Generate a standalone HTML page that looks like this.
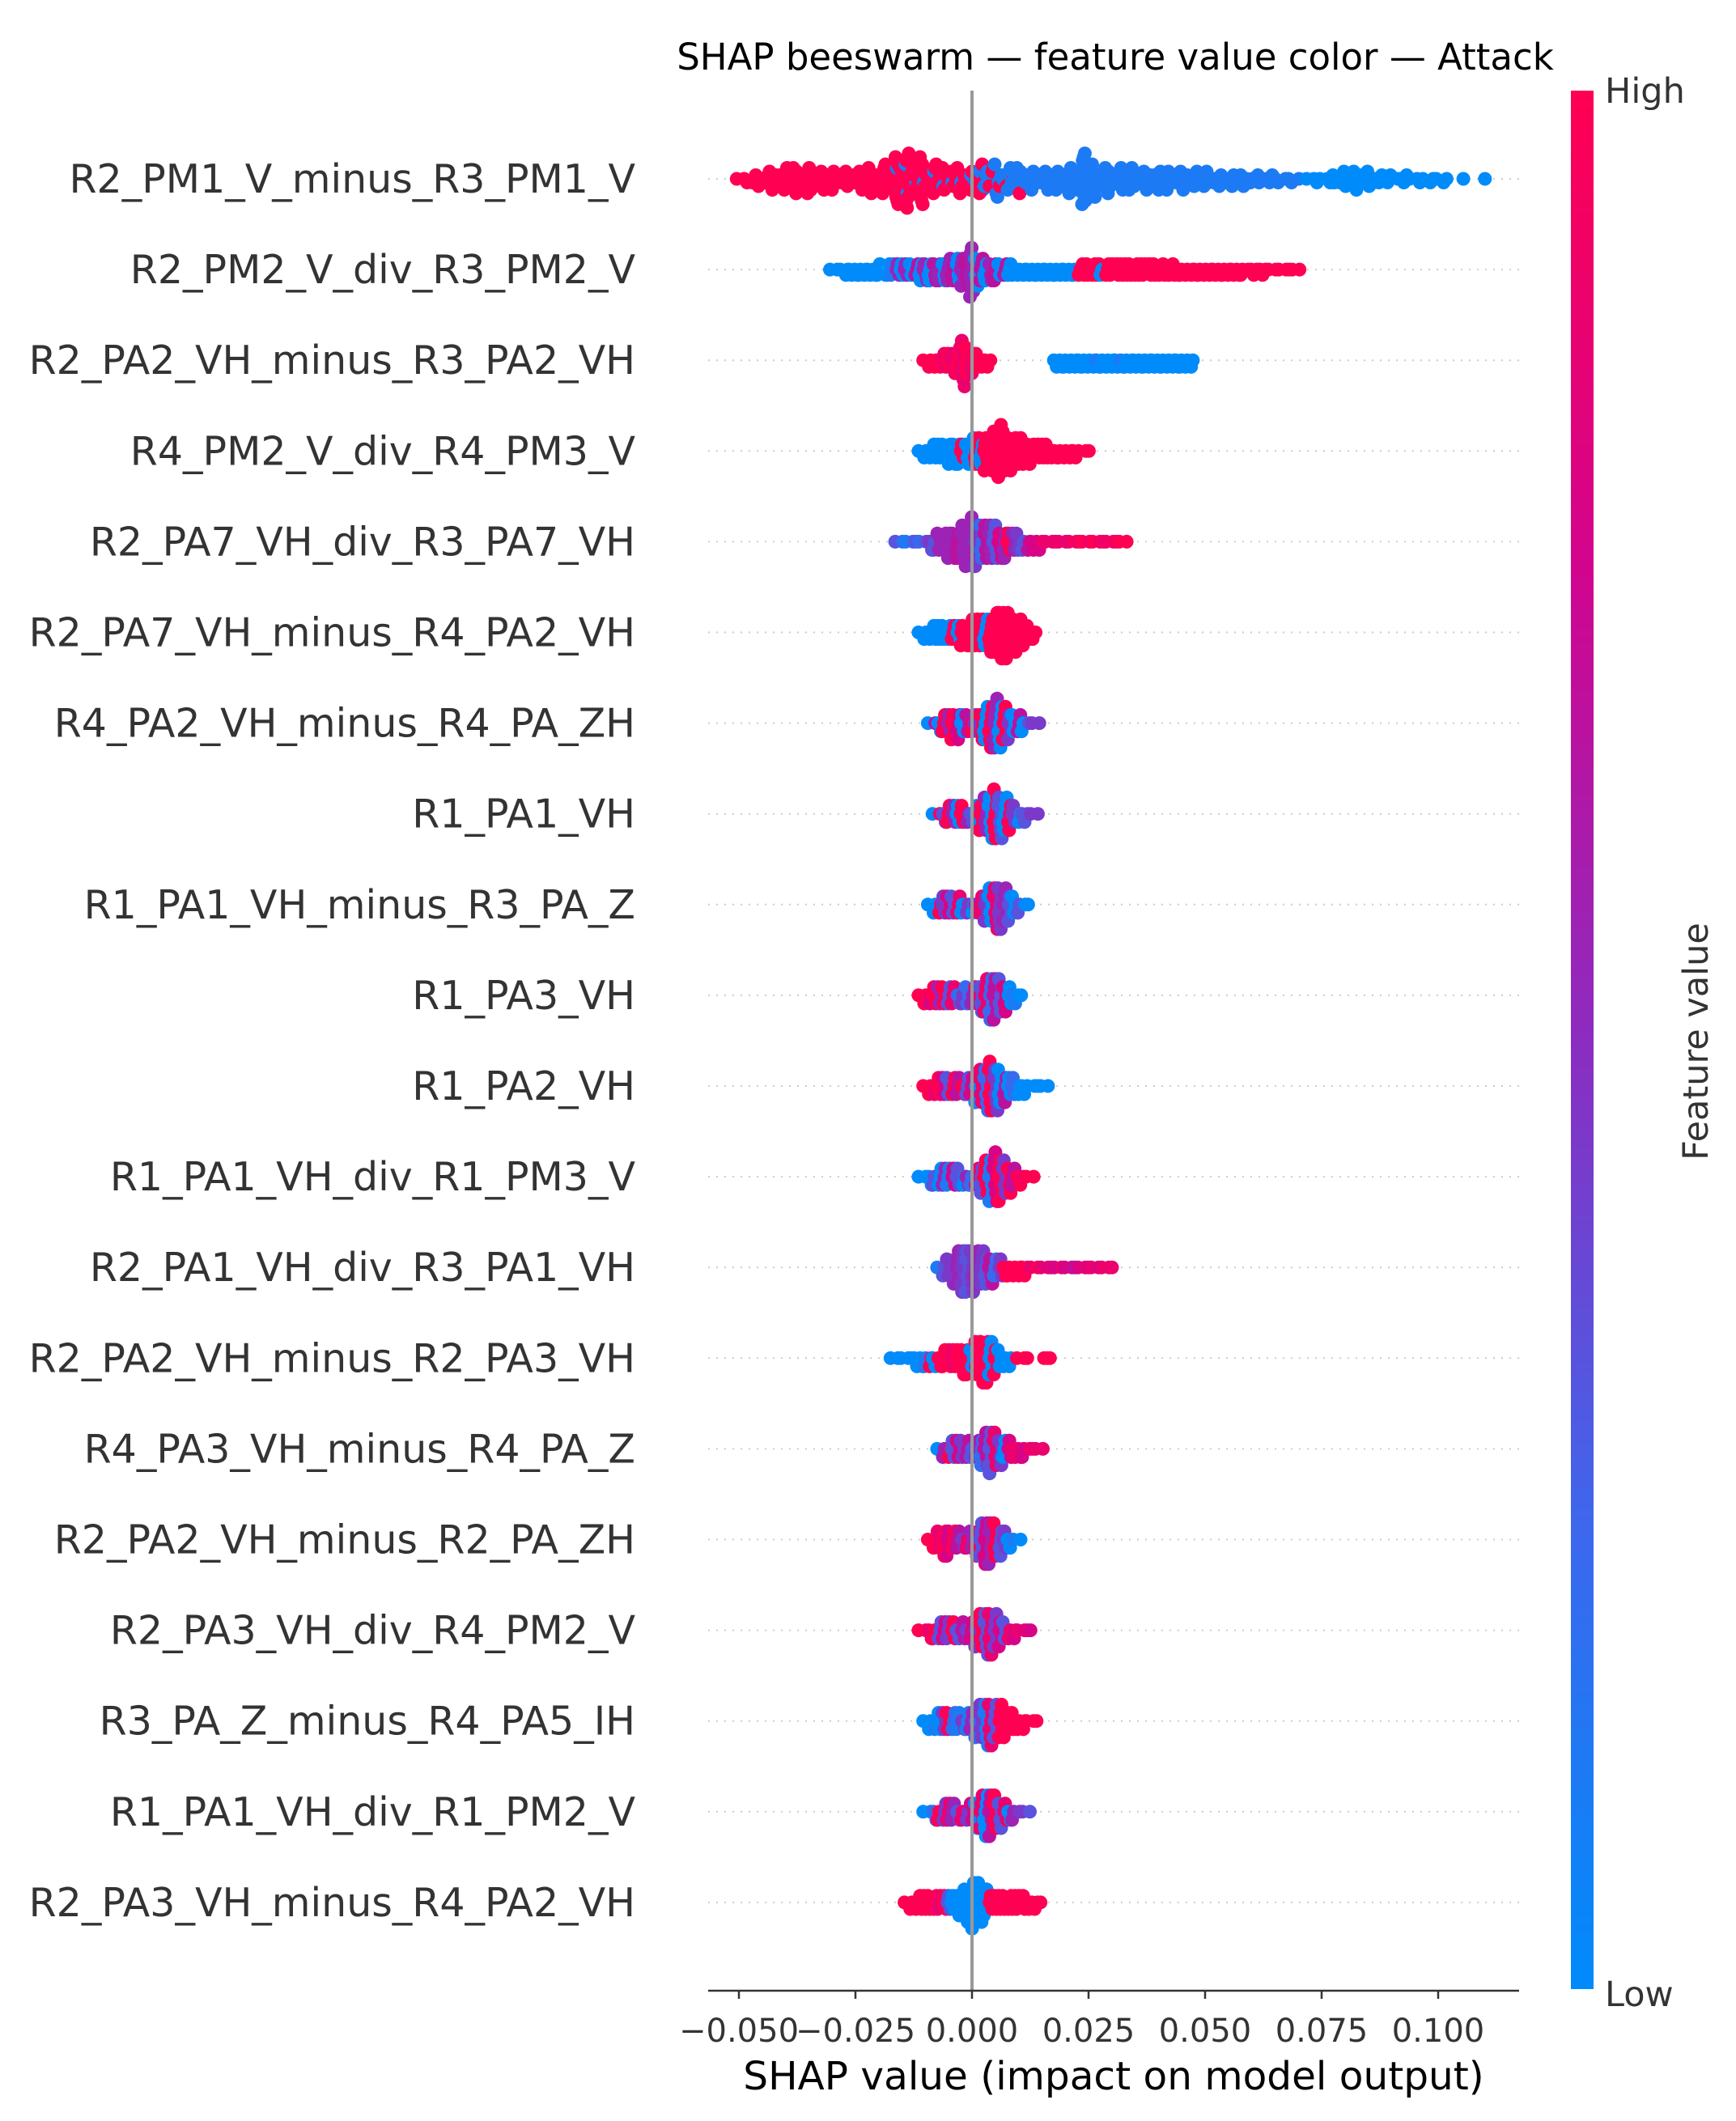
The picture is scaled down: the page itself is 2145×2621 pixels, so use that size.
<!DOCTYPE html>
<html><head><meta charset="utf-8"><style>
html,body{margin:0;padding:0;background:#fff;}
svg text{font-family:"DejaVu Sans","Liberation Sans",sans-serif;}
</style></head><body>
<svg id="chart" width="2145" height="2616" viewBox="0 0 2145 2616" xmlns="http://www.w3.org/2000/svg">
<defs><linearGradient id="cbar" x1="0" y1="1" x2="0" y2="0">
<stop offset="0" stop-color="#008bfb"/><stop offset="0.25" stop-color="#3f66ec"/><stop offset="0.5" stop-color="#8c2cc0"/><stop offset="0.75" stop-color="#d2048e"/><stop offset="1" stop-color="#ff0052"/></linearGradient></defs>
<text x="1378" y="86" font-size="45" text-anchor="middle" fill="#000">SHAP beeswarm — feature value color — Attack</text>
<g id="grid"></g><g id="labels"></g><g id="dots"></g>
<line x1="1201" y1="112" x2="1201" y2="2460" stroke="#999" stroke-width="4"/>
<line x1="875" y1="2460" x2="1877" y2="2460" stroke="#333" stroke-width="2.5"/>
<g id="xticks"></g>
<text x="1376" y="2582" font-size="48.5" text-anchor="middle" fill="#000">SHAP value (impact on model output)</text>
<rect x="1941" y="112" width="28" height="2346" fill="url(#cbar)"/>
<text x="1983" y="127" font-size="43" fill="#333">High</text>
<text x="1983" y="2479" font-size="43" fill="#333">Low</text>
<text x="2110" y="1287" font-size="43" fill="#333" text-anchor="middle" transform="rotate(-90 2110 1287)">Feature value</text>
</svg>
<script>
const features=["R2_PM1_V_minus_R3_PM1_V","R2_PM2_V_div_R3_PM2_V","R2_PA2_VH_minus_R3_PA2_VH","R4_PM2_V_div_R4_PM3_V","R2_PA7_VH_div_R3_PA7_VH","R2_PA7_VH_minus_R4_PA2_VH","R4_PA2_VH_minus_R4_PA_ZH","R1_PA1_VH","R1_PA1_VH_minus_R3_PA_Z","R1_PA3_VH","R1_PA2_VH","R1_PA1_VH_div_R1_PM3_V","R2_PA1_VH_div_R3_PA1_VH","R2_PA2_VH_minus_R2_PA3_VH","R4_PA3_VH_minus_R4_PA_Z","R2_PA2_VH_minus_R2_PA_ZH","R2_PA3_VH_div_R4_PM2_V","R3_PA_Z_minus_R4_PA5_IH","R1_PA1_VH_div_R1_PM2_V","R2_PA3_VH_minus_R4_PA2_VH"];
const tickValues=[-0.05,-0.025,0,0.025,0.05,0.075,0.1];
const tickLabels=["−0.050","−0.025","0.000","0.025","0.050","0.075","0.100"];
// points: "shap(thousandths):featureValue(0-9)*count"
const row1="-50:9 -49:9 -48:9 -47:9*2 -46:9*2 -45:9*2 -44:9*3 -43:9*3 -42:9*3 -41:9*3 -40:9*4 -39:9*4 -38:9*4 -37:9*4 -36:9*4 -35:9*4 -34:9*3 -33:9*3 -32:9*3 -31:9*3 -30:9*3 -29:9*3 -28:9*2 -27:9*3 -26:9*3 -25:9*3 -24:9*3 -23:9*4 -22:9*4 -21:9*4 -20:9*4 -19:9*5 -18:9*5 -17:9*6 -16:1*2 -16:9*6 -15:9*7 -14:1*2 -14:9*7 -13:9*6 -12:0*2 -12:9*6 -11:9*6 -10:1*2 -10:9*5 -9:9*4 -8:1*2 -8:9*3 -7:9*3 -6:1 -6:9*3 -5:9*3 -4:1*2 -4:9*3 -3:9*3 -2:1*2 -2:9*2 -1:9*2 0:1*2 0:9*2 1:1*2 1:9*2 2:1*3 2:9*2 3:9*2 3:1*3 4:1*3 4:9*2 5:9*2 5:1*3 6:1*3 6:9 7:1*3 7:9 8:1*3 9:9 9:1*3 10:1*3 10:9 11:1*3 12:1*3 13:1*3 14:1*3 15:1*3 16:1*3 17:1*3 18:1*3 19:1*3 20:1*4 21:1*4 22:1*5 23:1*6 24:1*9 25:1*6 26:1*4 27:1*3 28:1*4 29:1*4 30:1*4 31:1*3 32:1*4 33:1*4 34:1*3 35:1*4 36:1*3 37:1*3 38:1*3 39:1*3 40:1*3 41:1*3 42:1*3 43:1*3 44:1*3 45:1*3 46:1*3 47:1*2 48:1*3 49:1*3 50:1*2 51:1*2 52:1*2 53:1*2 54:1*2 55:1*2 56:1*2 57:1*2 58:1*2 59:1*2 60:1*2 61:1 62:1*2 63:1 64:1*2 65:1 66:1 67:1 68:1 69:1 70:1 72:0 73:0 74:0 75:0 76:0 77:0*2 78:0*2 79:0*2 80:0*3 81:0*3 82:0*3 83:0*2 84:0*3 85:0*2 86:0*2 87:0*2 88:0 89:0*2 90:0 91:0 92:0 93:0*2 94:0 95:0 96:0 97:0 98:0 99:0 100:0 101:0 102:0 105:0 110:0";
const row2="-30:0 -29:0 -28:0 -27:0*2 -26:0*2 -25:0*2 -24:0*2 -23:0*2 -22:0*2 -21:0*2 -20:0*3 -19:0*2 -18:0*3 -17:1*3 -16:5*3 -15:0*3 -14:5*3 -13:0*3 -12:6*3 -11:0*4 -10:5*4 -9:0*4 -8:6*4 -7:5*4 -6:0*4 -5:5*5 -4:6*4 -3:0*5 -2:5*6 -1:6*6 0:5*10 1:0*6 2:6*5 3:0*4 4:5*4 5:6*4 6:0*3 7:6*3 8:0*3 9:0*2 10:0*2 11:0*2 12:0*2 13:0*2 14:0*2 15:0*2 16:0*2 17:0*2 18:0*2 19:0*2 20:0*2 21:0*2 22:0*2 23:9*2 24:9*3 25:9*3 26:9*3 27:9*3 28:0*2 29:9*3 30:9*3 31:9*3 32:9*3 33:9*3 34:9*3 35:9*3 36:9*3 37:9*3 38:9*3 39:9*3 40:9*2 41:9*3 42:9*2 43:9*3 44:9*2 45:9*2 46:9*2 47:9*2 48:9*2 49:9*2 50:9*2 51:9*2 52:9*2 53:9*2 54:9*2 55:9*2 56:9*2 57:9*2 58:9*2 59:9 60:9*2 61:9 62:9*2 63:9 64:9 65:9 66:9 67:9 68:9 69:9 70:9";
const row3="-10:9 -9:9*2 -8:9*2 -7:9*2 -6:8*3 -5:9*3 -4:8*4 -3:9*5 -2:8*8 -1:9*5 0:8*4 1:9*3 2:9*2 3:9*2 4:9 18:0*2 19:0*2 20:0*2 21:0*2 22:0*2 23:0*2 24:0*2 25:0*2 26:0*2 27:1*2 28:0*2 29:0*2 30:0*2 31:0*2 32:1*2 33:0*2 34:0*2 35:0*2 36:0*2 37:0*2 38:0*2 39:0*2 40:0*2 41:0*2 42:0*2 43:0*2 44:0*2 45:0*2 46:0*2 47:0*2";
const row4="-11:0 -10:0*2 -9:0*2 -8:0*3 -7:0*3 -6:0*3 -5:0*4 -4:0*4 -3:0*4 -2:9*3 -1:0*4 0:0*5 1:9*5 2:0*4 3:9*6 4:9*6 5:9*7 6:9*9 7:9*7 8:9*6 9:9*5 10:9*5 11:9*4 12:9*4 13:9*3 14:9*3 15:9*3 16:9*3 17:9*2 18:9*2 19:9*2 20:9*2 21:9*2 22:9*2 23:9 24:9 25:9";
const row5="-16:3 -15:2 -14:1 -13:2 -12:3 -11:2 -10:3 -9:4*2 -8:3*2 -7:5*3 -6:5*3 -5:5*4 -4:5*4 -3:6*4 -2:5*5 -1:5*6 0:5*7 1:4*6 2:2*5 3:6*5 4:5*5 5:3*5 6:7*4 7:5*4 8:9*3 9:5*3 10:4*3 11:3*2 12:6*2 13:7*2 14:7*2 15:8 16:8 17:8 18:8 19:8 20:8 21:8 22:9 23:8 24:9 25:8 26:9 27:8 28:9 29:8 30:9 31:8 32:9 33:9";
const row6="-11:0 -10:0*2 -9:0*2 -8:0*3 -7:0*3 -6:0*3 -5:0*3 -4:9*3 -3:0*3 -2:9*4 -1:9*4 0:9*5 1:9*5 2:9*5 3:0*5 4:9*6 5:9*7 6:9*8 7:9*8 8:9*7 9:9*6 10:9*5 11:9*4 12:9*3 13:9*2 14:9";
const row7="-9:0 -8:6 -7:0*2 -6:9*3 -5:5*3 -4:9*4 -3:7*4 -2:0*3 -1:6*3 0:9*2 1:4*3 2:9*4 3:0*5 4:9*6 5:5*7 6:0*6 7:9*5 8:4*4 9:0*3 10:6*3 11:0*2 12:3 13:4 14:4";
const row8="-8:0 -7:9 -6:3*2 -5:9*3 -4:5*3 -3:0*3 -2:9*3 -1:5*2 0:3*2 1:0*3 2:9*4 3:5*5 4:0*6 5:9*7 6:3*6 7:0*5 8:9*4 9:4*3 10:0*2 11:3*2 12:3 13:4 14:4";
const row9="-9:0 -8:0*2 -7:9*2 -6:4*3 -5:7*3 -4:3*3 -3:8*3 -2:0*2 -1:4*2 0:0*2 1:5*2 2:8*3 3:4*4 4:0*5 5:8*6 6:4*6 7:5*5 8:3*4 9:0*3 10:3*2 11:0 12:0";
const row10="-11:9 -10:9*2 -9:7*2 -8:9*3 -7:5*3 -6:9*3 -5:3*3 -4:8*3 -3:2*2 -2:4*2 -1:2*3 0:5*2 1:8*3 2:3*4 3:8*5 4:2*6 5:6*6 6:3*5 7:7*4 8:0*3 9:1*2 10:0 11:0";
const row11="-10:9 -9:9*2 -8:8*2 -7:9*3 -6:7*3 -5:3*3 -4:9*3 -3:6*3 -2:9*2 -1:3*3 0:7*3 1:0*4 2:8*5 3:2*6 4:9*7 5:4*6 6:0*5 7:6*4 8:0*3 9:2*3 10:0*2 11:0*2 12:0 13:0 14:0 15:0 16:0";
const row12="-11:0 -10:0 -9:0*2 -8:3*2 -7:0*3 -6:5*3 -5:1*3 -4:7*3 -3:3*3 -2:0*2 -1:5*2 0:2*2 1:8*3 2:3*4 3:9*5 4:1*6 5:7*7 6:9*6 7:4*5 8:9*4 9:6*3 10:9*2 11:8 12:9 13:9";
const row13="-7:1 -6:3*2 -5:4*3 -4:4*4 -3:5*5 -2:4*6 -1:3*6 0:4*6 1:5*5 2:4*5 3:3*4 4:6*4 5:2*3 6:4*3 7:9*2 8:9*2 9:9*2 10:9*2 11:9*2 12:9 13:8 14:9 15:8 16:7 17:8 18:7 19:8 20:7 21:7 22:6 23:7 24:8 25:7 26:8 27:7 28:8 29:8 30:8";
const row14="-17:0 -16:0 -15:0 -14:0 -13:0 -12:0*2 -11:0*2 -10:1*2 -9:9*2 -8:0*2 -7:9*2 -6:9*3 -5:9*3 -4:8*3 -3:9*3 -2:9*4 -1:9*4 0:0*3 1:9*5 2:9*6 3:9*6 4:0*5 5:9*4 6:0*3 7:0*2 8:0*2 10:9 11:9 12:9 15:9 16:9 17:9";
const row15="-7:0 -6:5*2 -5:9*2 -4:3*3 -3:7*3 -2:4*3 -1:6*3 0:3*2 1:5*3 2:2*4 3:6*5 4:3*6 5:8*5 6:4*4 7:0*3 8:7*3 9:8*2 10:8*2 11:7*2 12:8 13:8 14:8 15:8";
const row16="-9:9 -8:9*2 -7:8*3 -6:9*4 -5:7*4 -4:9*3 -3:6*3 -2:4*2 -1:8*2 0:5*3 1:9*4 2:3*5 3:7*6 4:5*6 5:9*5 6:3*4 7:4*3 8:0*2 9:1 10:0";
const row17="-11:9 -10:9 -9:8*2 -8:9*2 -7:3*3 -6:7*3 -5:4*3 -4:9*3 -3:3*2 -2:6*3 -1:4*2 0:7*3 1:4*4 2:9*5 3:3*6 4:8*6 5:4*5 6:7*4 7:3*3 8:8*2 9:7*2 10:8 11:7 12:8 13:7";
const row18="-10:0 -9:0*2 -8:1*2 -7:0*3 -6:4*3 -5:9*3 -4:2*3 -3:1*3 -2:4*2 -1:1*3 0:5*3 1:2*4 2:4*5 3:1*6 4:8*6 5:3*5 6:9*5 7:9*4 8:9*3 9:9*3 10:9*2 11:9*2 12:9 13:9 14:9";
const row19="-10:0 -9:0 -8:2*2 -7:9*2 -6:4*3 -5:8*3 -4:5*3 -3:3*2 -2:8*2 -1:4*2 0:7*3 1:1*4 2:8*5 3:0*6 4:6*6 5:9*5 6:3*4 7:8*3 8:0*2 9:5*2 10:4 11:4 12:3";
const row20="-14:9 -13:9*2 -12:9*2 -11:9*3 -10:9*3 -9:9*3 -8:9*3 -7:8*3 -6:9*3 -5:3*3 -4:0*3 -3:0*4 -2:0*5 -1:0*6 0:0*8 1:0*7 2:0*6 3:0*5 4:9*3 5:9*3 6:9*3 7:9*3 8:9*3 9:9*3 10:9*3 11:9*3 12:9*2 13:9*2 14:9 15:9";
const rows=[row1,row2,row3,row4,row5,row6,row7,row8,row9,row10,row11,row12,row13,row14,row15,row16,row17,row18,row19,row20];

const NS="http://www.w3.org/2000/svg";
const X0=1201, PXU=5760;
const xs=v=>X0+v*PXU;
const ROW0=221, ROWH=112.1;
const ys=i=>ROW0+i*ROWH;
const stops=[[0,[0,139,251]],[0.25,[63,102,236]],[0.5,[140,44,192]],[0.75,[210,4,142]],[1,[255,0,82]]];
function cmap(t){for(let k=1;k<stops.length;k++){if(t<=stops[k][0]){const a=stops[k-1],b=stops[k];const f=(t-a[0])/(b[0]-a[0]);return 'rgb('+a[1].map((c,j)=>Math.round(c+(b[1][j]-c)*f)).join(',')+')';}}return 'rgb(255,0,82)';}
function mk(tag,attrs,parent){const e=document.createElementNS(NS,tag);for(const k in attrs)e.setAttribute(k,attrs[k]);parent.appendChild(e);return e;}
const grid=document.getElementById('grid'),labels=document.getElementById('labels'),dots=document.getElementById('dots'),xt=document.getElementById('xticks');
tickValues.forEach((v,i)=>{
  const t=mk('line',{x1:xs(v),x2:xs(v),y1:2460,y2:2470,stroke:'#333','stroke-width':2.5},xt);
  
  
  const l=mk('text',{x:xs(v),y:2523,'font-size':40,'text-anchor':'middle',fill:'#333'},xt);
  l.textContent=tickLabels[i];
  
  
});
features.forEach((f,i)=>{
  const y=ys(i);
  const g=mk('line',{x1:875,x2:1877,y1:y,y2:y,stroke:'#ccc','stroke-width':2,'stroke-dasharray':'2,8'},grid);
  
  
  const t=mk('text',{x:785,y:y+17,'font-size':49,'text-anchor':'end',fill:'#333'},labels);
  t.textContent=f;
  
  
  const pts=[];
  rows[i].trim().split(/\s+/).forEach(tok=>{const [v,r]=tok.split(':');const [c,n]=r.split('*');for(let k=0;k<(n?+n:1);k++)pts.push([+v/1000,+c/9]);});
  const vals=pts.map(p=>p[0]);const mn=Math.min(...vals),mx=Math.max(...vals);
  const q=pts.map(p=>Math.round(100*(p[0]-mn)/(mx-mn+1e-8)));
  const order=pts.map((p,j)=>j).sort((a,b)=>q[a]-q[b]||a-b);
  const off=new Array(pts.length).fill(0);let layer=0,last=-1;
  order.forEach(j=>{if(q[j]!==last)layer=0;off[j]=Math.ceil(layer/2)*((layer%2)*2-1);layer++;last=q[j];});
  const m=Math.max(...off.map(o=>o+1));
  const sc=0.9*0.4/m*ROWH;
  pts.forEach((p,j)=>{
    const jit=(((j*0.618034)%1)-0.5)*5.5; // visual spread within a value cell
    const c=mk('circle',{cx:(xs(p[0])+jit).toFixed(1),cy:(y+off[j]*sc).toFixed(1),r:8.5,fill:cmap(p[1])},dots);
    
    
  });
});
</script>
</body></html>
